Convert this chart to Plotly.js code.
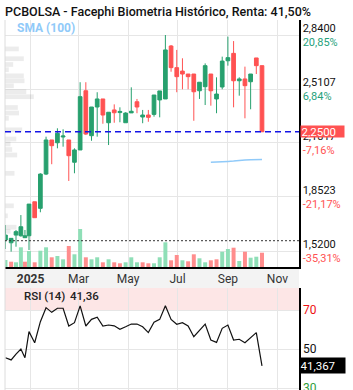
<!DOCTYPE html>
<html><head><meta charset="utf-8">
<script src="https://cdn.plot.ly/plotly-3.0.1.min.js"></script>
<style>html,body{margin:0;padding:0;overflow:hidden;background:#fff}#chart{width:353px;height:400px}</style>
</head><body><div id="chart"></div>
<script>
// ---- data (weekly candles) ----
const dates = ['2024-12-01','2024-12-08','2024-12-14','2024-12-20','2024-12-25',
 '2024-12-30','2025-01-06','2025-01-13','2025-01-20','2025-01-27','2025-02-03','2025-02-10','2025-02-17','2025-02-24',
 '2025-03-03','2025-03-10','2025-03-17','2025-03-24','2025-03-31','2025-04-07','2025-04-14','2025-04-21','2025-04-28',
 '2025-05-05','2025-05-12','2025-05-19','2025-05-26','2025-06-02','2025-06-09','2025-06-16','2025-06-23','2025-06-30',
 '2025-07-07','2025-07-14','2025-07-21','2025-07-28','2025-08-04','2025-08-11','2025-08-18','2025-08-25','2025-09-01',
 '2025-09-08','2025-09-15','2025-09-22','2025-09-29','2025-10-06','2025-10-13'];
const openP  = [1.590,1.573,1.620,1.616,1.604,1.616,1.823,1.783,1.992,2.200,2.183,2.218,2.200,2.064,2.139,2.500,2.226,2.401,2.450,2.305,2.383,2.367,2.305,2.365,2.433,2.340,2.352,2.356,2.444,2.450,2.773,2.641,2.620,2.602,2.602,2.500,2.525,2.602,2.450,2.523,2.683,2.728,2.561,2.572,2.555,2.700,2.653];
const highP  = [1.681,1.602,1.651,1.742,1.651,1.809,1.823,1.997,2.220,2.200,2.271,2.265,2.200,2.149,2.552,2.552,2.401,2.491,2.450,2.369,2.417,2.399,2.369,2.521,2.450,2.383,2.383,2.474,2.499,2.840,2.779,2.749,2.698,2.602,2.602,2.552,2.667,2.602,2.582,2.708,2.830,2.803,2.582,2.647,2.602,2.700,2.653];
const lowP   = [1.535,1.519,1.549,1.610,1.602,1.529,1.726,1.759,1.986,2.052,2.149,2.159,1.950,1.997,2.139,2.230,2.195,2.220,2.299,2.169,2.305,2.308,2.305,2.365,2.363,2.302,2.311,2.342,2.338,2.450,2.616,2.491,2.509,2.509,2.317,2.450,2.413,2.409,2.363,2.509,2.653,2.399,2.470,2.332,2.387,2.602,2.250];
const closeP = [1.620,1.600,1.641,1.671,1.616,1.809,1.726,1.992,2.200,2.165,2.241,2.224,2.104,2.139,2.464,2.236,2.401,2.450,2.352,2.369,2.366,2.374,2.364,2.375,2.401,2.352,2.338,2.474,2.499,2.749,2.641,2.586,2.602,2.586,2.494,2.552,2.653,2.500,2.480,2.681,2.702,2.561,2.572,2.531,2.602,2.653,2.250];
const volume = [7,5.3,4.7,19.7,5.3,16,4.7,16.3,19.7,9.7,11,7.7,21,12.7,38,9.7,7.7,9.7,4.7,7.7,4.7,3.7,4.7,9.7,4.7,4.7,3.7,3.7,9.7,24.7,6.7,12,6.7,5.7,12.7,8.7,4.7,6.7,7.7,15.3,18,19.3,6,15.3,9.3,10.3,14.3];
const volumeUp = [1,0,1,1,0,1,0,1,1,0,1,1,0,1,1,0,1,1,0,1,0,0,1,1,1,0,0,1,1,1,0,0,1,0,0,1,1,0,0,1,1,0,1,0,1,1,0];
const rsi = [45.5,44.4,47.4,50.0,45.5,58.9,53.2,64.0,71.2,68.8,70.9,70.9,61.8,63.5,72.1,61.8,65.2,66.3,61.8,62.3,61.9,60.1,61.4,62.8,62.8,61.4,58.4,63.7,65.2,72.2,65.2,62.7,63.5,61.8,56.3,59.4,62.8,54.6,53.4,60.6,62.3,54.6,55.0,53.2,56.0,58.4,41.367];
const sma100 = [null,null,null,null,null,null,null,null,null,null,null,null,null,null,null,null,null,null,null,null,null,null,null,null,null,null,null,null,null,null,null,null,null,null,null,null,null,2.0637,2.0643,2.0655,2.0692,2.0710,2.0753,2.0778,2.0790,2.0802,2.0814];
// volume profile (price level -> relative volume)
const profilePrice  = [2.7552,2.6954,2.6601,2.6284,2.5912,2.5607,2.5302,2.4942,2.4637,2.3979,2.3643,2.3320,2.2619,2.2058,2.1753,2.1418,2.1082,1.9966,1.7985,1.7375,1.6680,1.6430];
const profileVolume = [13.8,18.8,8.2,3.8,18.8,19.5,8.8,21.3,28.8,12.8,14,3.8,17.2,11.3,5.5,7.2,12.2,9.5,8.8,2.8,11.5,5.5];
// axis labels
const priceTicks = [1.52,1.8523,2.1817,2.5107,2.84];
const priceLabels = ['1,5200','1,8523','2,1817','2,5107','2,8400'];
const pctLabels = ['-35,31%','-21,17%','-7,16%','6,84%','20,85%'];
const monthTicks = ['2025-01-01','2025-03-01','2025-05-01','2025-07-01','2025-09-01','2025-11-01'];
const monthLabels = ['<b>2025</b>','Mar','May','Jul','Sep','Nov'];
const rsiTicks = [30,50,70];
const rsiLabels = ['<span style="color:#2e9d3a">30</span>','50','<span style="color:#ee1111">70</span>'];
const lastPrice = 2.25, lastPriceLabel = '2,2500';
const lastRsi = 41.367, lastRsiLabel = '41,367', rsiHeader = '41,36';
const supportLevel = 1.5856;
const titleText = 'PCBOLSA - Facephi Biometria Histórico, Renta: 41,50%';

// ---- styles ----
const G = '#27a06e', R = '#ff5252';
const GV = '#8fdfb7', RV = '#ff8d8d';
const DAY = 86400000;
const xr = ['2024-11-30 10:30','2025-11-27 14:00'];
const H = 400, T = 20, B = 2, PH = H - T - B;
const py = p => (H - B - p) / PH;  // pixel -> paper y

const priceTickText = priceLabels.map((p,i)=>p+'<br><span style="color:'+(pctLabels[i][0]==='-'?R:'#26a17b')+'">'+pctLabels[i]+'</span>');

const traces = [
 {type:'bar', orientation:'h', x:profileVolume, y:profilePrice, xaxis:'x2', yaxis:'y', width:0.029,
  marker:{color:'rgba(0,0,0,0.075)', line:{width:0}}, hoverinfo:'skip'},
 {type:'bar', x:dates, y:volume, xaxis:'x', yaxis:'y3', width:4.9*DAY,
  marker:{color:volumeUp.map(u=>u?GV:RV), line:{width:0}}, hoverinfo:'skip'},
 {type:'candlestick', x:dates, open:openP, high:highP, low:lowP, close:closeP, xaxis:'x', yaxis:'y',
  increasing:{line:{color:G,width:1}, fillcolor:G}, decreasing:{line:{color:R,width:1}, fillcolor:R}, whiskerwidth:0, hoverinfo:'skip'},
 {type:'scatter', mode:'lines', x:dates, y:sma100, xaxis:'x', yaxis:'y', line:{color:'#90caf9', width:1.5}, hoverinfo:'skip'},
 {type:'scatter', mode:'lines', x:dates, y:rsi, xaxis:'x3', yaxis:'y2', line:{color:'#111', width:1.2}, hoverinfo:'skip'}
];

const layout = {
 width:353, height:H, margin:{l:5, r:54, t:T, b:B},
 paper_bgcolor:'#fff', plot_bgcolor:'rgba(0,0,0,0)', showlegend:false,
 font:{family:'Roboto, sans-serif', size:11, color:'#111'},
 title:{text:titleText, font:{family:'Roboto, sans-serif', size:12.5, color:'#111', weight:500},
  xref:'container', x:5/353, xanchor:'left', yref:'container', y:1-12/H, yanchor:'middle'},
 boxgap:0.09, boxgroupgap:0,
 xaxis:{type:'date', range:xr, anchor:'y', tickvals:monthTicks, ticktext:monthLabels, ticks:'',
  showgrid:true, gridcolor:'#e6e6e6', gridwidth:1, showline:true, linecolor:'#000', linewidth:2,
  tickfont:{size:12, color:'#333'}, rangeslider:{visible:false}, zeroline:false, fixedrange:true},
 yaxis:{domain:[py(267),1], range:[1.4253,2.9315], anchor:'x', side:'right', tickvals:priceTicks, ticktext:priceTickText,
  showgrid:true, gridcolor:'#e6e6e6', showline:true, linecolor:'#000', linewidth:1.5, ticks:'', zeroline:false,
  tickfont:{size:11, color:'#111'}},
 yaxis3:{overlaying:'y', range:[0,247], visible:false, anchor:'x'},
 xaxis2:{overlaying:'x', range:[0,294], visible:false, anchor:'y'},
 xaxis3:{type:'date', range:xr, anchor:'y2', tickvals:monthTicks, showticklabels:false, ticks:'',
  showgrid:true, gridcolor:'#e6e6e6', zeroline:false, showline:false},
 yaxis2:{domain:[0,py(288)], range:[24.87,81.28], anchor:'x3', side:'right', tickvals:rsiTicks, ticktext:rsiLabels,
  showgrid:true, gridcolor:'#e6e6e6', showline:true, linecolor:'#000', linewidth:1.5, ticks:'', zeroline:false,
  tickfont:{size:12, color:'#111'}},
 shapes:[
  {type:'rect', xref:'paper', yref:'y2', x0:0, x1:1, y0:70, y1:81.28, fillcolor:'#fde6e6', line:{width:0}, layer:'below'},
  {type:'rect', xref:'paper', yref:'paper', x0:0, x1:1, y0:py(288), y1:py(267), fillcolor:'#f3f3f3', line:{width:0}, layer:'below'},
  {type:'line', xref:'paper', yref:'paper', x0:0, x1:0, y0:0, y1:1, line:{color:'#dcdcdc', width:1}},
  {type:'line', xref:'paper', yref:'y', x0:0, x1:1, y0:lastPrice, y1:lastPrice, line:{color:'#1414e6', width:1.4, dash:'6px,4px'}},
  {type:'line', xref:'paper', yref:'y', x0:0, x1:1, y0:supportLevel, y1:supportLevel, line:{color:'#333', width:1, dash:'2px,2px'}}
 ],
 annotations:[
  {text:'SMA (100)', xref:'paper', yref:'paper', x:(46-5)/294, y:py(28.3), xanchor:'center', yanchor:'middle', showarrow:false,
   font:{size:12, color:'#90caf9', weight:700}},
  {text:lastPriceLabel, xref:'paper', yref:'y', x:1, y:lastPrice, xanchor:'left', yanchor:'middle', showarrow:false,
   bgcolor:R, font:{size:11.5, color:'#fff'}, width:42, height:10, align:'left', borderpad:0.5, xshift:0.5},
  {text:lastRsiLabel, xref:'paper', yref:'y2', x:1, y:lastRsi, xanchor:'left', yanchor:'middle', showarrow:false,
   bgcolor:'#000', font:{size:11.5, color:'#fff'}, width:44, height:14, align:'left', borderpad:0.5},
  {text:'RSI (14)', xref:'paper', yref:'paper', x:(21.7-5)/294, y:py(295.7), xanchor:'left', yanchor:'middle', showarrow:false,
   font:{size:11.5, color:'#222', weight:500}},
  {text:rsiHeader, xref:'paper', yref:'paper', x:(68-5)/294, y:py(295.7), xanchor:'left', yanchor:'middle', showarrow:false,
   font:{size:11.5, color:'#222', weight:500}}
 ]
};

Plotly.newPlot('chart', traces, layout, {staticPlot:true, displayModeBar:false});
</script></body></html>
